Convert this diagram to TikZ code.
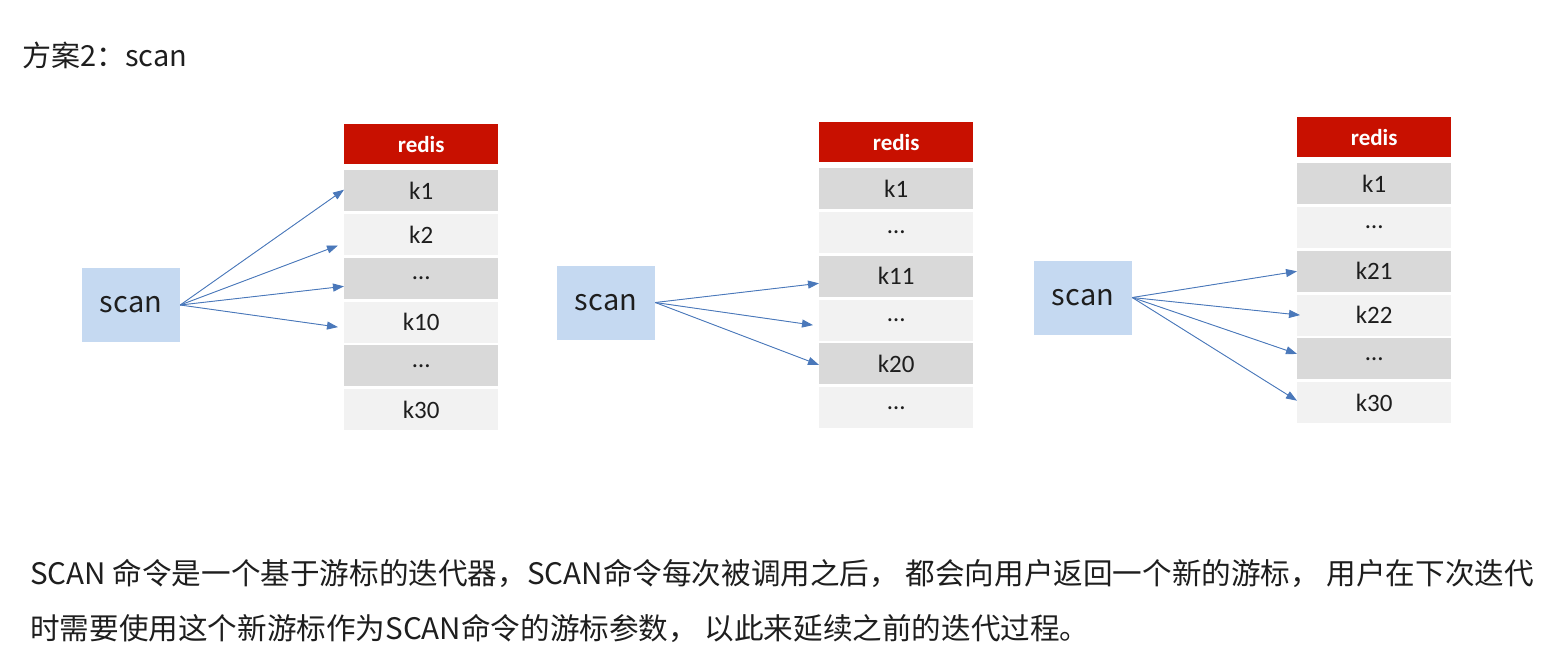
\documentclass[tikz,border=0pt]{standalone}
\usepackage{fontspec}
\usepackage{tikz}
\usepackage{xcolor}
\usetikzlibrary{arrows.meta, positioning}
\setmainfont{Carlito}
\newfontfamily\cjk{Noto Sans CJK SC}
\definecolor{cRed}{RGB}{200,16,0}
\definecolor{cDark}{RGB}{217,217,217}
\definecolor{cLight}{RGB}{242,242,242}
\definecolor{cScan}{RGB}{197,217,241}
\definecolor{cArrow}{RGB}{74,120,186}
\definecolor{cText}{RGB}{30,30,30}
\tikzset{
	header/.style={rectangle, anchor=north west, minimum width=154pt, minimum height=40pt, inner sep=0pt, fill=cRed, text=white, font=\fontsize{23}{26}\selectfont\bfseries},
	darkcell/.style={rectangle, anchor=north west, minimum width=154pt, minimum height=41pt, inner sep=0pt, fill=cDark, text=cText, font=\fontsize{25}{26}\selectfont},
	lightcell/.style={darkcell, fill=cLight},
	scanbox/.style={rectangle, minimum width=98pt, minimum height=74pt, inner sep=0pt, fill=cScan, text=cText, font=\cjk\fontsize{29}{30}\selectfont},
	keyarrow/.style={-{Triangle[length=11pt, width=8pt]}, draw=cArrow, fill=cArrow, line width=0.9pt},
	bodytext/.style={anchor=west, inner sep=0pt, text=cText, font=\cjk\fontsize{29.6}{30}\selectfont},
}
\begin{document}
\begin{tikzpicture}[x=1pt, y=-1pt]
	\useasboundingbox (0,0) rectangle (1563,649);
	\node[bodytext, font=\cjk\fontsize{29}{30}\selectfont] (title) at (22,55) {方案2：scan};
	% three redis tables
	\foreach \col/\x/\y/\keys in {a/344/124/{k1,k2,…,k10,…,k30}, b/819/122/{k1,…,k11,…,k20,…}, c/1297/117/{k1,…,k21,k22,…,k30}} {
		\node[header] (\col-h) at (\x,\y) {redis};
		\foreach \k [count=\i from 0] in \keys {
			\ifodd\i
				\node[lightcell] (\col-\i) at (\x,\y+46+\i*43.8) {\k};
			\else
				\node[darkcell] (\col-\i) at (\x,\y+46+\i*43.8) {\k};
			\fi
		}
	}
	% scan boxes
	\node[scanbox] (sa) at (131,305) {scan};
	\node[scanbox] (sb) at (606,302.5) {scan};
	\node[scanbox] (sc) at (1083,297.5) {scan};
	% arrows
	\draw[keyarrow] (sa.east) -- ([yshift=1pt]a-0.west);
	\draw[keyarrow] (sa.east) -- ([xshift=-6pt, yshift=-11pt]a-1.west);
	\draw[keyarrow] (sa.east) -- ([yshift=-8pt]a-2.west);
	\draw[keyarrow] (sa.east) -- ([xshift=-6pt, yshift=-5pt]a-3.west);
	\draw[keyarrow] (sb.east) -- ([yshift=-7pt]b-2.west);
	\draw[keyarrow] (sb.east) -- ([xshift=-6pt, yshift=-5pt]b-3.west);
	\draw[keyarrow] (sb.east) -- ([yshift=-1pt]b-4.west);
	\draw[keyarrow] (sc.east) -- (c-2.west);
	\draw[keyarrow] (sc.east) -- ([xshift=3pt]c-3.west);
	\draw[keyarrow] (sc.east) -- ([yshift=5pt]c-4.west);
	\draw[keyarrow] (sc.east) -- ([yshift=2pt]c-5.west);
	% explanation
	\node[bodytext] (line1) at (30,573) {SCAN 命令是一个基于游标的迭代器，SCAN命令每次被调用之后， 都会向用户返回一个新的游标， 用户在下次迭代};
	\node[bodytext] (line2) at (30,628) {时需要使用这个新游标作为SCAN命令的游标参数， 以此来延续之前的迭代过程。};
\end{tikzpicture}
\end{document}
